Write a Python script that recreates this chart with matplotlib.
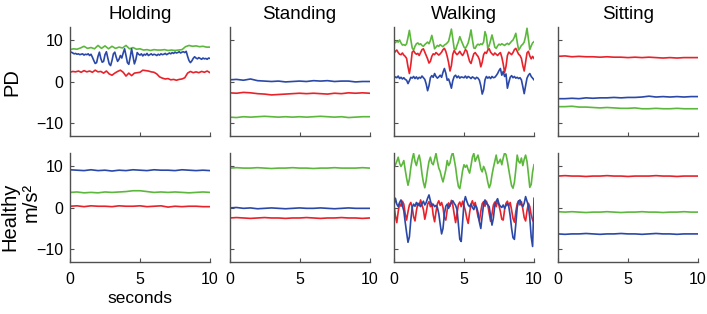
import numpy as np
import matplotlib
matplotlib.use("Agg")
import matplotlib.pyplot as plt

plt.rcParams['font.family'] = ['Liberation Sans', 'DejaVu Sans']

activities = ["Holding", "Standing", "Walking", "Sitting"]
groups = ["PD", "Healthy"]
x_ticks = [0, 5, 10]
y_ticks = [-10, 0, 10]

# ---------------- PD ----------------
pd_holding_green = [7.6, 7.8, 7.7, 8.0, 8.4, 7.9, 8.1, 7.8, 8.6, 7.9, 8.5, 7.8, 8.4, 7.9, 8.2, 8.0, 8.6,
                    7.8, 8.1, 7.7, 7.8, 7.5, 7.6, 7.4, 7.6, 7.5, 7.5, 7.6, 7.4, 7.5, 7.4, 7.5, 7.6, 8.3,
                    8.6, 8.4, 8.5, 8.3, 8.4, 8.2, 8.2]
pd_holding_blue = [6.9, 7.0, 6.8, 6.6, 6.7, 6.5, 6.6, 6.4, 6.5, 6.6, 6.3, 6.5, 6.4, 6.6, 6.2, 6.5,
                   5.8, 5.0, 4.3, 4.5, 6.0, 7.0, 5.5, 4.6, 4.8, 6.4, 7.1, 5.6, 4.2, 3.8, 5.0, 6.6, 7.0,
                   5.8, 4.8, 5.3, 6.2, 5.6, 6.8, 7.8, 6.2, 4.5, 4.1, 5.8, 7.8, 6.0, 4.2, 5.2, 6.9, 6.5, 6.3,
                   6.6, 6.1, 6.5, 6.3, 6.7, 6.2, 6.4, 6.6, 6.3, 6.5,
                   6.4, 6.2, 6.5, 6.3, 6.6, 6.4, 6.5, 6.7, 6.4, 6.6,
                   6.8, 6.6, 6.9, 6.7, 7.0, 6.8, 6.9, 7.1, 6.8, 7.0,
                   7.1, 6.9, 7.2, 6.0, 5.0, 4.5, 4.9, 5.5, 5.9, 5.6,
                   5.4, 5.7, 5.5, 5.3, 5.6, 5.4, 5.5, 5.3, 5.6, 5.5]
pd_holding_red = [2.2, 2.4, 2.3, 2.5, 2.2, 2.6, 2.3, 2.5, 2.2, 2.7, 2.3, 2.4, 2.0, 2.5, 1.8, 1.5, 2.0,
                  2.4, 2.7, 2.2, 1.3, 2.0, 1.4, 2.0, 2.1, 2.2, 2.7, 2.6, 2.5, 2.3, 2.2, 1.8, 1.1, 0.8,
                  0.6, 0.7, 0.4, 0.5, 0.3, 0.5, 0.6, 0.9, 2.0, 2.4, 2.1, 2.3, 2.1, 2.4, 2.2, 2.5, 2.1]

pd_standing_blue = [0.4, 0.5, 0.3, 0.6, 0.2, 0.1, 0.0, 0.1, -0.1, 0.0, 0.1, 0.0, 0.2, 0.1, 0.2,
                    0.0, 0.1, 0.1, -0.1, 0.0, 0.0]
pd_standing_red = [-2.7, -2.8, -2.6, -2.7, -2.9, -3.0, -3.2, -3.1, -3.0, -2.9, -2.8, -2.9, -2.8,
                   -2.9, -3.0, -2.8, -2.9, -2.7, -2.8, -2.7, -2.8]
pd_standing_green = [-8.5, -8.6, -8.4, -8.5, -8.4, -8.3, -8.4, -8.5, -8.4, -8.5, -8.4, -8.5, -8.4,
                     -8.3, -8.4, -8.5, -8.4, -8.6, -8.5, -8.4, -8.4]

pd_walking_green = [9.1, 9.3, 9.6, 9.4, 9.9, 9.2, 8.7, 8.8, 8.6, 9.0,
                    10.5, 12.2, 10.0, 8.0, 7.5, 8.4, 9.0, 9.2, 8.8, 9.0,
                    8.6, 8.4, 8.8, 9.1, 9.4, 9.0, 9.8, 11.0, 9.5, 7.8,
                    8.2, 8.6, 8.4, 8.8, 8.5, 8.3, 8.7, 8.9, 9.2, 9.6,
                    11.0, 12.5, 10.2, 7.8, 7.6, 8.6, 9.5, 10.7, 9.8, 9.0,
                    8.2, 7.9, 8.5, 9.2, 10.6, 12.3, 10.0, 8.0, 7.9, 8.6,
                    8.9, 8.7, 9.0, 8.8, 9.4, 11.9, 10.8, 7.8, 8.6, 9.8,
                    11.1, 9.7, 8.2, 7.9, 8.5, 8.9, 8.7, 9.0, 8.8, 8.6,
                    8.9, 9.1, 8.8, 9.2, 9.6, 9.9, 10.6, 11.5, 9.4, 7.5,
                    8.0, 8.6, 8.9, 9.4, 10.8, 12.7, 10.2, 7.6, 8.5, 9.2, 9.5]
pd_walking_red = [6.7, 7.2, 7.5, 6.9, 6.5, 6.4, 6.8, 6.3, 6.0, 5.5,
                  3.5, 1.9, 4.0, 7.0, 7.3, 6.8, 6.5, 6.7, 6.2, 6.9,
                  7.6, 7.8, 7.0, 6.2, 5.4, 4.4, 4.8, 6.0, 6.6, 6.4,
                  6.9, 6.6, 6.3, 6.6, 7.0, 7.6, 7.9, 7.2, 6.0, 4.5,
                  2.5, 3.8, 6.5, 7.4, 6.8, 6.4, 6.7, 7.2, 6.6, 6.2,
                  6.8, 7.6, 7.3, 6.0, 4.8, 4.3, 5.5, 6.6, 6.9, 6.4,
                  6.0, 5.2, 3.5, 4.6, 6.4, 7.0, 6.7, 7.5, 7.8, 7.0,
                  6.6, 6.3, 6.8, 6.5, 6.2, 6.6, 6.9, 5.8, 4.2, 2.2,
                  3.6, 6.2, 7.0, 6.7, 6.4, 6.9, 7.6, 7.9, 7.2, 6.5,
                  6.2, 5.5, 3.8, 2.5, 4.6, 6.8, 7.2, 6.1, 5.4, 6.0, 5.5]
pd_walking_blue = [0.8, 1.1, 0.9, 1.3, 0.7, 1.0, 0.6, 0.9, 0.5, 0.3,
                   -0.5, 0.2, 1.0, 0.8, 1.2, 0.7, 1.1, 0.6, 1.0, 0.8,
                   1.3, 0.9, 0.5, -0.6, -2.2, -1.0, 0.9, 1.4, 1.0, 1.9,
                   1.2, 0.8, 1.1, 1.5, 1.0, 2.2, 3.1, 2.0, 0.3, 0.6,
                   -0.4, -1.6, 0.2, 1.2, 1.5, 0.9, 1.3, 0.8, 1.1, 1.0,
                   0.9, 1.3, 0.8, 1.2, 1.0, 0.7, 1.1, 0.9, 0.6, 1.0,
                   0.8, 0.3, -1.0, -3.0, -2.0, 0.4, 1.2, 0.8, 1.1, 0.7,
                   1.2, 0.9, 1.0, 1.4, 1.9, 2.6, 3.1, 1.5, 2.4, 1.2,
                   1.8, -1.6, -0.2, 1.0, 1.4, 0.9, 1.2, 0.8, 1.0, 0.7,
                   0.9, 0.4, -1.2, -2.9, -1.0, 0.8, 1.5, 1.9, 1.2, 0.8, 0.4]

pd_sitting_red = [6.0, 6.1, 5.9, 6.0, 5.9, 5.9, 5.8, 5.9, 5.8, 5.8, 5.7, 5.8, 5.7, 5.8, 5.7, 5.6,
                  5.7, 5.6, 5.7, 5.7, 5.7]
pd_sitting_blue = [-4.1, -4.1, -4.0, -4.1, -3.9, -4.0, -3.9, -3.9, -3.8, -3.9, -3.8, -3.8, -3.7,
                   -3.5, -3.7, -3.6, -3.7, -3.6, -3.7, -3.6, -3.6]
pd_sitting_green = [-6.0, -6.0, -5.9, -6.1, -6.1, -6.2, -6.3, -6.2, -6.3, -6.4, -6.4, -6.3, -6.5,
                    -6.5, -6.4, -6.5, -6.5, -6.4, -6.5, -6.5, -6.5]

# ---------------- Healthy ----------------
hc_holding_blue = [9.0, 8.9, 8.8, 9.0, 8.8, 8.9, 8.7, 8.9, 8.8, 9.0, 8.9, 8.8, 9.0, 8.9, 8.9, 8.8,
                   9.0, 8.9, 8.8, 8.9, 8.8]
hc_holding_green = [3.6, 3.7, 3.5, 3.6, 3.5, 3.7, 3.6, 3.7, 3.8, 4.0, 4.0, 3.8, 3.6, 3.7, 3.6, 3.7,
                    3.6, 3.5, 3.6, 3.7, 3.6]
hc_holding_red = [0.3, 0.4, 0.2, 0.4, 0.3, 0.3, 0.2, 0.4, 0.3, 0.3, 0.4, 0.2, 0.3, 0.4, 0.1, 0.3,
                  0.2, 0.3, 0.3, 0.2, 0.2]

hc_standing_green = [9.4, 9.5, 9.4, 9.4, 9.5, 9.4, 9.3, 9.4, 9.4, 9.5, 9.4, 9.4, 9.3, 9.4, 9.4,
                     9.5, 9.4, 9.4, 9.4, 9.5, 9.4]
hc_standing_blue = [-0.1, 0.0, -0.2, -0.1, -0.3, -0.2, -0.1, -0.2, -0.3, -0.2, -0.1, -0.2, -0.2,
                    -0.1, -0.2, -0.3, -0.2, -0.1, -0.2, -0.2, -0.2]
hc_standing_red = [-2.5, -2.4, -2.5, -2.6, -2.5, -2.4, -2.5, -2.5, -2.6, -2.5, -2.5, -2.4, -2.5,
                   -2.6, -2.5, -2.5, -2.4, -2.5, -2.5, -2.6, -2.5]

hc_walking_green = [9.5, 10.2, 11.0, 12.0, 10.5, 9.8, 10.4, 11.2, 9.0, 7.0,
                    5.3, 6.8, 9.5, 11.5, 12.9, 11.0, 10.0, 11.5, 12.5, 10.8,
                    8.0, 6.0, 4.7, 6.5, 9.0, 11.0, 12.0, 10.6, 10.2, 11.5,
                    12.9, 11.0, 9.4, 8.6, 7.2, 6.1, 7.5, 9.0, 11.2, 10.0,
                    10.6, 12.3, 13.2, 11.5, 9.6, 7.0, 5.0, 4.5, 6.5, 8.8,
                    10.2, 9.6, 10.1, 9.0, 8.2, 10.0, 12.0, 12.9, 11.0, 11.8,
                    12.5, 11.0, 9.2, 8.5, 9.8, 9.0, 7.8, 6.0, 4.7, 5.6,
                    7.8, 9.5, 11.0, 12.5, 10.5, 10.9, 11.5, 10.2, 11.8, 13.0,
                    12.6, 11.0, 9.0, 7.0, 5.2, 4.6, 6.0, 9.0, 12.5, 11.0,
                    10.6, 11.8, 10.0, 11.5, 12.5, 11.0, 8.0, 4.8, 5.5, 8.5, 10.2]
hc_walking_red = [0.5, -2.0, -3.6, -1.0, 1.0, 0.3, 1.5, 0.8, -1.5, -3.0,
                  -1.0, 0.6, 1.2, 0.0, -2.2, -3.2, -0.8, 1.0, 0.4, 1.8,
                  0.6, -0.5, -2.8, -1.2, 0.8, 1.4, 0.2, 1.0, -1.8, -3.4,
                  -1.0, 0.9, 1.6, 0.5, 1.2, 0.0, -2.5, -3.0, -0.6, 1.1,
                  0.3, 1.7, 0.6, -1.6, -3.6, -1.4, 0.7, 1.3, 0.2, 1.5,
                  0.4, -0.8, -2.6, -3.8, -1.2, 0.8, 1.6, 0.4, 1.2, -0.4,
                  -2.2, -3.2, -0.9, 0.9, 1.4, 0.3, 1.5, 0.6, -1.4, -3.3,
                  -1.5, 0.6, 1.3, 0.2, 1.7, 0.5, -1.0, -2.8, -3.0, -0.5,
                  1.0, 1.5, 0.4, 1.2, -0.6, -2.6, -3.5, -1.0, 0.9, 1.6,
                  0.6, 1.4, -0.3, -2.4, -3.2, -0.8, 1.0, 0.2, -1.8, -3.0, -3.6]
hc_walking_blue = [0.6, 2.2, 0.8, 0.2, 1.2, 1.8, 0.5, -0.8, -3.5, -6.0,
                   -8.3, -7.0, -3.0, 0.0, 0.8, 0.3, 1.2, 0.5, 1.0, 0.2,
                   0.9, 1.5, 0.6, 1.2, 2.2, 3.0, 1.6, 0.4, 0.8, 0.2,
                   0.5, 0.0, -1.5, -4.0, -6.3, -5.0, -1.5, 0.3, 0.8, -0.2,
                   0.6, 1.2, 1.6, 1.0, 0.5, -0.5, -4.0, -7.6, -8.1, -3.5,
                   1.2, 2.6, 1.5, 0.6, 0.2, 0.8, 0.0, -0.5, 0.5, 0.1,
                   -1.2, -3.5, -5.0, -2.0, 0.8, 1.8, 1.0, 0.6, 0.2, -2.0,
                   -4.2, -2.5, 0.5, 1.5, 2.1, 0.8, 0.3, 0.0, 0.6, -0.2,
                   0.5, 0.9, 0.2, -2.0, -5.0, -7.2, -7.6, -4.0, 0.0, 1.5,
                   1.8, 0.8, 0.2, 1.0, 2.6, 1.5, 0.4, -2.5, -7.0, -9.3, 2.2]

hc_sitting_red = [7.5, 7.6, 7.5, 7.5, 7.4, 7.5, 7.5, 7.6, 7.5, 7.5, 7.4, 7.5, 7.5, 7.5, 7.6, 7.5,
                  7.5, 7.4, 7.5, 7.5, 7.5]
hc_sitting_green = [-1.0, -1.1, -1.0, -1.1, -1.2, -1.1, -1.1, -1.0, -1.1, -1.2, -1.1, -1.1, -1.0,
                    -1.1, -1.1, -1.2, -1.1, -1.1, -1.0, -1.1, -1.1]
hc_sitting_blue = [-6.3, -6.4, -6.3, -6.3, -6.2, -6.3, -6.4, -6.3, -6.3, -6.2, -6.3, -6.3, -6.4,
                   -6.3, -6.2, -6.3, -6.3, -6.4, -6.3, -6.3, -6.3]

GREEN = '#5cb83c'
RED = '#e8222a'
BLUE = '#2a48a8'

panels = [
    [(pd_holding_green, pd_holding_red, pd_holding_blue),
     (pd_standing_green, pd_standing_red, pd_standing_blue),
     (pd_walking_green, pd_walking_red, pd_walking_blue),
     (pd_sitting_green, pd_sitting_red, pd_sitting_blue)],
    [(hc_holding_green, hc_holding_red, hc_holding_blue),
     (hc_standing_green, hc_standing_red, hc_standing_blue),
     (hc_walking_green, hc_walking_red, hc_walking_blue),
     (hc_sitting_green, hc_sitting_red, hc_sitting_blue)],
]

W, H = 707, 314
fig = plt.figure(figsize=(W / 100, H / 100), dpi=100)
lefts_px = [70, 229.5, 394, 558]
bottoms_px = [136, 262]
aw, ah = 140, 109
spine_col = '#505050'

for r in range(2):
    for c in range(4):
        ax = fig.add_axes([lefts_px[c] / W, 1 - bottoms_px[r] / H, aw / W, ah / H])
        g, rd, b = panels[r][c]
        for series, col in ((g, GREEN), (rd, RED), (b, BLUE)):
            t = np.linspace(0, 10, len(series))
            ax.plot(t, series, color=col, lw=1.2)
        ax.set_xlim(0, 10)
        ax.set_ylim(-13, 13)
        ax.set_xticks(x_ticks)
        ax.set_yticks(y_ticks)
        for s in ('top', 'right'):
            ax.spines[s].set_visible(False)
        for s in ('left', 'bottom'):
            ax.spines[s].set_color(spine_col)
            ax.spines[s].set_linewidth(1.0)
        ax.tick_params(direction='in', length=3, width=0.8, color=spine_col,
                       labelsize=11.5, pad=5)
        ax.tick_params(axis='x', pad=7)
        if c != 0:
            ax.tick_params(labelleft=False)
        if r != 1:
            ax.tick_params(labelbottom=False)
        if r == 0:
            ax.set_title(activities[c], fontsize=13.5, pad=6)
        if r == 1 and c == 0:
            ax.set_xlabel("seconds", fontsize=12.5, labelpad=3)

fig.text(12 / W, 1 - 82 / H, groups[0], rotation=90, fontsize=14.5, ha='center', va='center')
fig.text(10 / W, 1 - 217 / H, groups[1], rotation=90, fontsize=14.5, ha='center', va='center')
fig.text(31 / W, 1 - 202 / H, "m/s\u00b2", rotation=90, fontsize=14.5, ha='center', va='center')

fig.savefig("out.png", dpi=100)
